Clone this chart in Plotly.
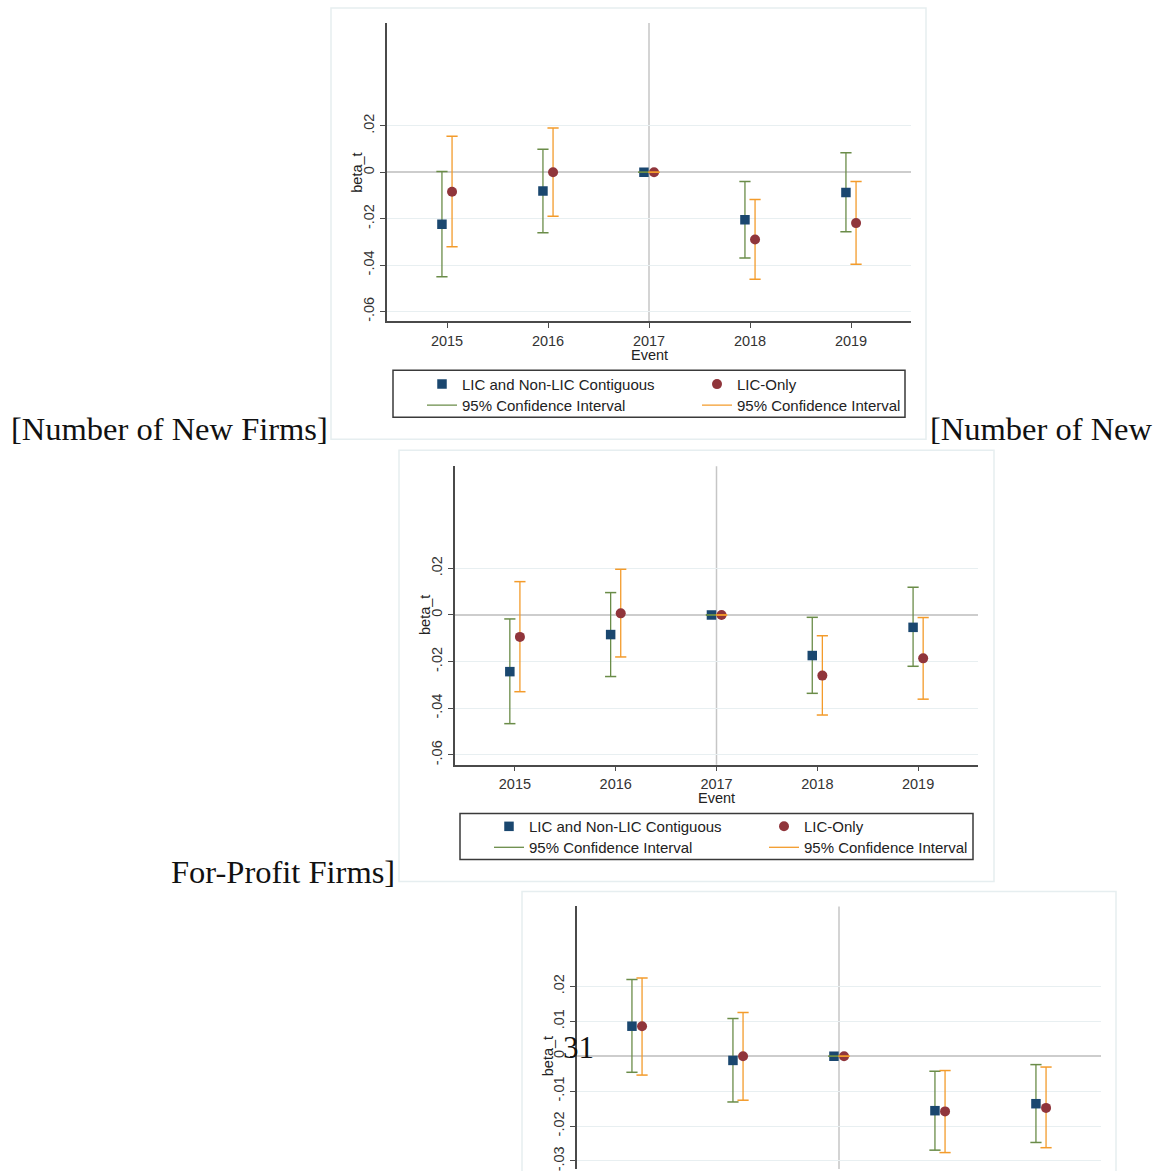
import plotly.graph_objects as go

W, H = 1156, 1171

def xf(px):
    return px / W

def yf(py):
    return 1 - py / H

# ---------------- data ----------------
years = [2015, 2016, 2017, 2018, 2019]
year_labels = ["2015", "2016", "2017", "2018", "2019"]

series_names = ["LIC and Non-LIC Contiguous", "LIC-Only"]
ci_name = "95% Confidence Interval"

# Panel 1: Number of New Firms
p1_contig = [-0.0224, -0.0081, 0.0, -0.0204, -0.0087]
p1_contig_lo = [-0.0450, -0.0261, 0.0, -0.0369, -0.0256]
p1_contig_hi = [0.0004, 0.0100, 0.0, -0.0040, 0.0084]
p1_lic = [-0.0084, 0.0000, 0.0, -0.0290, -0.0219]
p1_lic_lo = [-0.0321, -0.0189, 0.0, -0.0461, -0.0396]
p1_lic_hi = [0.0156, 0.0191, 0.0, -0.0117, -0.0040]

# Panel 2: Number of New For-Profit Firms
p2_contig = [-0.0243, -0.0084, 0.0, -0.0174, -0.0053]
p2_contig_lo = [-0.0466, -0.0264, 0.0, -0.0336, -0.0220]
p2_contig_hi = [-0.0017, 0.0096, 0.0, -0.0010, 0.0119]
p2_lic = [-0.0094, 0.0007, 0.0, -0.0260, -0.0186]
p2_lic_lo = [-0.0329, -0.0180, 0.0, -0.0429, -0.0361]
p2_lic_hi = [0.0143, 0.0196, 0.0, -0.0089, -0.0011]

# Panel 3 (cut off at page bottom)
p3_contig = [0.0086, -0.0012, 0.0, -0.0156, -0.0136]
p3_contig_lo = [-0.0046, -0.0131, 0.0, -0.0269, -0.0247]
p3_contig_hi = [0.0220, 0.0108, 0.0, -0.0043, -0.0024]
p3_lic = [0.0086, 0.0000, 0.0, -0.0158, -0.0148]
p3_lic_lo = [-0.0054, -0.0126, 0.0, -0.0276, -0.0262]
p3_lic_hi = [0.0224, 0.0125, 0.0, -0.0041, -0.0031]

y_ticks_a = [-0.06, -0.04, -0.02, 0, 0.02]
y_ticktext_a = ["-.06", "-.04", "-.02", "0", ".02"]
y_ticks_b = [-0.03, -0.02, -0.01, 0, 0.01, 0.02]
y_ticktext_b = ["-.03", "-.02", "-.01", "0", ".01", ".02"]

# ---------------- styles ----------------
NAVY = "#1a476f"
MAROON = "#90353b"
GREEN = "#6a8c48"
ORANGE = "#f39b2b"
AXIS = "#4a4a4a"
GRID = "#e8eff1"
FONT = "Liberation Sans, Arial, sans-serif"
SERIF = "Liberation Serif, Times New Roman, serif"
OFF = 0.05

fig = go.Figure()


def seg(xs, lo, hi):
    X, Y = [], []
    for x, a, b in zip(xs, lo, hi):
        X += [x, x, None]
        Y += [a, b, None]
    return X, Y


def add_panel(k, c, clo, chi, l, llo, lhi, legs):
    xa = "x" if k == 1 else f"x{k}"
    ya = "y" if k == 1 else f"y{k}"
    show = legs is not None
    xc = [y - OFF for y in years]
    xl = [y + OFF for y in years]
    # CI vertical lines (under markers)
    for xs, lo, hi, col, rank in [(xc, clo, chi, GREEN, 3), (xl, llo, lhi, ORANGE, 4)]:
        X, Y = seg(xs, lo, hi)
        fig.add_trace(go.Scatter(
            x=X, y=Y, mode="lines", name=ci_name, xaxis=xa, yaxis=ya,
            line=dict(color=col, width=1.3), showlegend=show,
            legend=(legs[1] if show else None), legendrank=rank,
            hoverinfo="skip"))
    # point estimates
    fig.add_trace(go.Scatter(
        x=xc, y=c, mode="markers", name=series_names[0], xaxis=xa, yaxis=ya,
        marker=dict(symbol="square", size=9.5, color=NAVY),
        showlegend=show, legend=(legs[0] if show else None), legendrank=1))
    fig.add_trace(go.Scatter(
        x=xl, y=l, mode="markers", name=series_names[1], xaxis=xa, yaxis=ya,
        marker=dict(symbol="circle", size=10, color=MAROON),
        showlegend=show, legend=(legs[0] if show else None), legendrank=2))
    # caps
    for xs, lo, hi, col in [(xc, clo, chi, GREEN), (xl, llo, lhi, ORANGE)]:
        fig.add_trace(go.Scatter(
            x=xs + xs, y=lo + hi, mode="markers", xaxis=xa, yaxis=ya,
            marker=dict(symbol="line-ew", size=8,
                        line=dict(color=col, width=1.5)),
            showlegend=False, hoverinfo="skip"))


add_panel(1, p1_contig, p1_contig_lo, p1_contig_hi, p1_lic, p1_lic_lo, p1_lic_hi,
          ("legend", "legend2"))
add_panel(2, p2_contig, p2_contig_lo, p2_contig_hi, p2_lic, p2_lic_lo, p2_lic_hi,
          ("legend3", "legend4"))
add_panel(3, p3_contig, p3_contig_lo, p3_contig_hi, p3_lic, p3_lic_lo, p3_lic_hi,
          None)

xrange = [2014.406, 2019.594]


def xaxis(dom, anchor, visible=True):
    return dict(
        domain=[xf(dom[0]), xf(dom[1])], anchor=anchor, range=xrange,
        tickvals=years, ticktext=year_labels, showgrid=False, zeroline=False,
        showline=visible, linecolor=AXIS, linewidth=1.5,
        ticks="outside" if visible else "", ticklen=5, tickwidth=1.2,
        tickcolor=AXIS, showticklabels=visible,
        tickfont=dict(family=FONT, size=14.5, color="#333"), fixedrange=True)


def yaxis(dom, anchor, rng, tv, tt):
    return dict(
        domain=[dom[0], dom[1]], anchor=anchor, range=rng,
        tickvals=tv, ticktext=tt, tickangle=-90,
        showgrid=True, gridcolor=GRID, gridwidth=1,
        zeroline=True, zerolinecolor="#cdcdcd", zerolinewidth=1.5,
        showline=True, linecolor=AXIS, linewidth=1.5,
        ticks="outside", ticklen=5, tickwidth=1.2, tickcolor=AXIS,
        ticklabeloverflow="allow",
        tickfont=dict(family=FONT, size=14.5, color="#333"), fixedrange=True)


layout = dict(
    width=W, height=H, margin=dict(l=0, r=0, t=0, b=0),
    paper_bgcolor="white", plot_bgcolor="rgba(0,0,0,0)",
    font=dict(family=FONT, size=14, color="#222"),
    xaxis=xaxis((387, 911), "y"),
    yaxis=yaxis((yf(322), yf(23)), "x", [-0.0643, 0.0644], y_ticks_a, y_ticktext_a),
    xaxis2=xaxis((455, 978), "y2"),
    yaxis2=yaxis((yf(766), yf(467)), "x2", [-0.0642, 0.0638], y_ticks_a, y_ticktext_a),
    xaxis3=xaxis((577, 1101), "y3", visible=False),
    yaxis3=yaxis((0, yf(908)), "x3", [-0.0323, 0.0429], y_ticks_b, y_ticktext_b),
)

PITCH_W = 230


def leg(xpx, ypx):
    return dict(orientation="h", x=xf(xpx), y=yf(ypx), xanchor="left",
                yanchor="middle", bgcolor="rgba(0,0,0,0)", borderwidth=0,
                entrywidth=PITCH_W, entrywidthmode="pixels",
                font=dict(family=FONT, size=15, color="#222"),
                itemclick=False, itemdoubleclick=False)


layout["legend"] = leg(422, 385)
layout["legend2"] = leg(422, 406)
layout["legend3"] = leg(489, 828)
layout["legend4"] = leg(489, 849)
fig.update_layout(**layout)

shapes = []
# panel frames
for (x0, y0, x1, y1) in [(331, 8, 926, 440), (399, 451, 994, 883), (522, 893, 1116, 1200)]:
    shapes.append(dict(type="rect", xref="paper", yref="paper",
                       x0=xf(x0), x1=xf(x1), y0=yf(y1), y1=yf(y0),
                       line=dict(color="#e6eef0", width=1.5), layer="below"))
# legend frames
for (x0, y0, x1, y1) in [(393, 371, 905, 418), (460, 815, 973, 861)]:
    shapes.append(dict(type="rect", xref="paper", yref="paper",
                       x0=xf(x0), x1=xf(x1), y0=yf(y1), y1=yf(y0),
                       line=dict(color="#3a3a3a", width=1.5), layer="below"))
# vertical event line at 2017
for k in ["", "2", "3"]:
    shapes.append(dict(type="line", xref="x" + k, yref=f"y{k} domain",
                       x0=2017, x1=2017, y0=0, y1=1,
                       line=dict(color="#c6c6c6", width=1.5), layer="below"))
fig.update_layout(shapes=shapes)

ann = []
# axis titles
for k, ypx in [("", 356), ("2", 799)]:
    ann.append(dict(text="Event", xref="x" + k, yref="paper", x=2017, y=yf(ypx),
                    showarrow=False, xanchor="center", yanchor="middle",
                    font=dict(family=FONT, size=14.5, color="#222")))
for xpx, ypx in [(357, 173), (425, 616), (548, 1058)]:
    ann.append(dict(text="beta_t", xref="paper", yref="paper", x=xf(xpx), y=yf(ypx),
                    showarrow=False, xanchor="center", yanchor="middle", textangle=-90,
                    font=dict(family=FONT, size=14.5, color="#222")))
# surrounding document text
ann.append(dict(text="[Number of New Firms]", xref="paper", yref="paper",
                x=xf(9), y=yf(430), xanchor="left", yanchor="middle", showarrow=False,
                font=dict(family=SERIF, size=32.5, color="#111")))
ann.append(dict(text="[Number of New", xref="paper", yref="paper",
                x=xf(928), y=yf(430), xanchor="left", yanchor="middle", showarrow=False,
                font=dict(family=SERIF, size=32.5, color="#111")))
ann.append(dict(text="For-Profit Firms]", xref="paper", yref="paper",
                x=xf(397), y=yf(873), xanchor="right", yanchor="middle", showarrow=False,
                font=dict(family=SERIF, size=32.5, color="#111")))
ann.append(dict(text="31", xref="paper", yref="paper",
                x=xf(578), y=yf(1049), xanchor="center", yanchor="middle", showarrow=False,
                font=dict(family=SERIF, size=31, color="#111")))
fig.update_layout(annotations=ann)

fig.write_html("out.html")
